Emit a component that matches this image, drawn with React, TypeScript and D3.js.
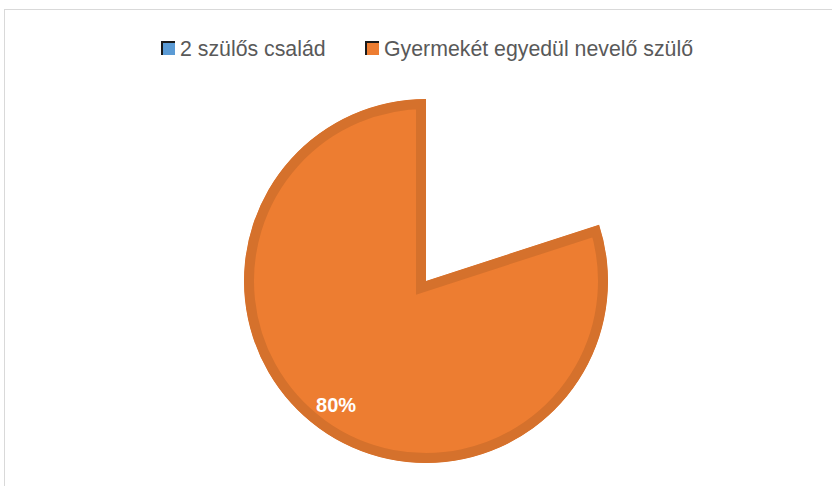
import React from "react";
import * as d3 from "d3";

const categories = ["2 szülős család", "Gyermekét egyedül nevelő szülő"];
const values = [20, 80];
const labels = ["", "80%"];
const colors = ["#5B9BD5", "#ED7D31"];
const borderColors = ["#41719C", "#D5712C"];

export default function App() {
  const W = 832, H = 486;
  const cx = 426, cy = 281, R = 182;
  const pie = d3.pie<number>().sort(null).value((d) => d).startAngle(0).endAngle(2 * Math.PI);
  const arcs = pie(values);
  const arcGen = d3.arc<d3.PieArcDatum<number>>().innerRadius(0).outerRadius(R);
  const labelArc = d3.arc<d3.PieArcDatum<number>>().innerRadius(153).outerRadius(153);

  const legendX = [161, 365];
  return (
    <svg width={W} height={H} style={{ position: "absolute", left: 0, top: 0 }}>
      <rect x={0} y={0} width={W} height={H} fill="#fff" />
      <rect x={4.5} y={9.5} width={W + 20} height={H + 20} fill="none" stroke="#D9D9D9" strokeWidth={1} />
      <defs>
        {arcs.map((a, i) => (
          <clipPath id={`clip${i}`} key={i}>
            <path d={arcGen(a) || ""} />
          </clipPath>
        ))}
      </defs>
      <g transform={`translate(${cx},${cy})`}>
        {arcs.map((a, i) =>
          i === 0 ? null : (
            <path
              key={i}
              d={arcGen(a) || ""}
              fill={colors[i]}
              stroke={borderColors[i]}
              strokeWidth={20}
              strokeLinejoin="miter"
              clipPath={`url(#clip${i})`}
            />
          )
        )}
        {arcs.map((a, i) => {
          if (!labels[i]) return null;
          const [lx, ly] = labelArc.centroid(a);
          return (
            <text
              key={i}
              x={lx}
              y={ly}
              textAnchor="middle"
              dominantBaseline="central"
              fill="#fff"
              fontFamily="'Liberation Sans', Arial, sans-serif"
              fontWeight="bold"
              fontSize={20}
            >
              {labels[i]}
            </text>
          );
        })}
      </g>
      {categories.map((c, i) => (
        <g key={i} transform={`translate(${legendX[i]},41)`}>
          <rect x={0} y={0} width={14} height={14} fill="#1a1a1a" />
          <rect x={2} y={2} width={12} height={12} fill={colors[i]} />
          <text
            x={19}
            y={15}
            fill="#595959"
            fontFamily="'Liberation Sans', Arial, sans-serif"
            fontSize={21.3}
          >
            {c}
          </text>
        </g>
      ))}
    </svg>
  );
}
